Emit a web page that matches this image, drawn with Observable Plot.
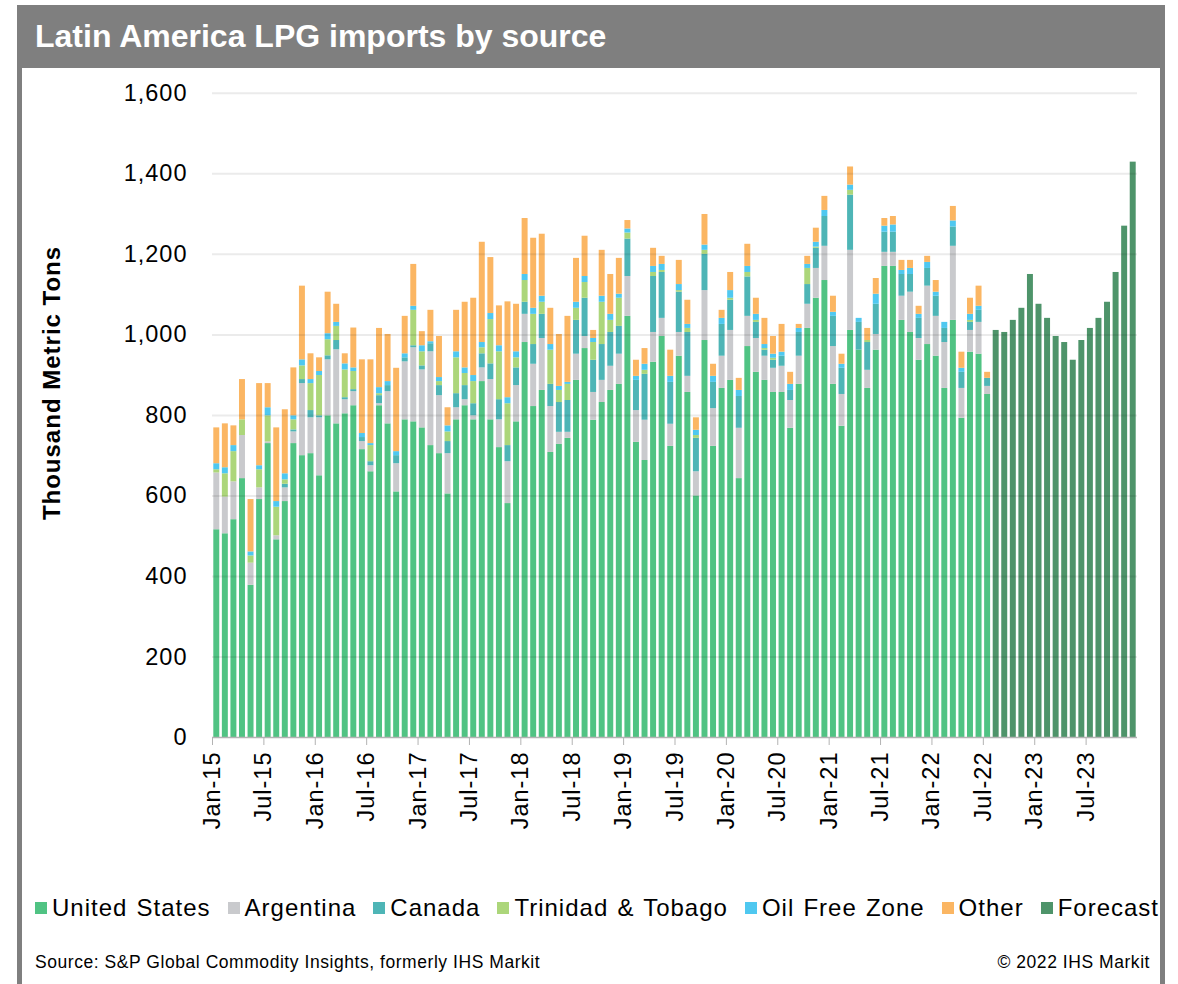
<!DOCTYPE html>
<html><head><meta charset="utf-8">
<script src="https://cdn.jsdelivr.net/npm/d3@7"></script>
<script src="https://cdn.jsdelivr.net/npm/@observablehq/plot@0.6"></script>
<style>
body{margin:0;background:#fff;font-family:"Liberation Sans",Arial,sans-serif;width:1178px;height:984px;overflow:hidden;position:relative;color:#000}
#frame{position:absolute;left:17px;top:5px;width:1148px;height:1010px;border:5px solid #7f7f7f;box-sizing:border-box}
#title{position:absolute;left:17px;top:5px;width:1148px;height:63px;background:#7f7f7f;color:#fff;font-weight:bold;font-size:32px;line-height:63px;padding-left:18px;box-sizing:border-box;white-space:nowrap}
#chart{position:absolute;left:0;top:70px}
#ytitle{position:absolute;left:52px;top:383px;transform:translate(-50%,-50%) rotate(-90deg);font-weight:bold;font-size:24px;letter-spacing:1px;white-space:nowrap}
#legend{position:absolute;left:35px;top:894px;display:flex;gap:17px;font-size:24px;letter-spacing:1px;word-spacing:1.5px;white-space:nowrap;align-items:center}
.item{display:flex;align-items:center}
.sw{width:12px;height:12px;margin-right:5px}
#source{position:absolute;left:35px;top:952px;font-size:17.5px;letter-spacing:0.55px;white-space:nowrap}
#copy{position:absolute;right:28px;top:952px;font-size:17.5px;letter-spacing:0.55px;white-space:nowrap}
</style></head>
<body>
<div id="frame"></div>
<div id="title">Latin America LPG imports by source</div>
<div id="chart"></div>
<div id="ytitle">Thousand Metric Tons</div>
<div id="legend"></div>
<div id="source">Source: S&amp;P Global Commodity Insights, formerly IHS Markit</div>
<div id="copy">© 2022 IHS Markit</div>
<script>
// Monthly data, Jan-15 .. Jul-22 (historical), thousand metric tons
const unitedStates = [516,506,541,643,378,591,730,491,586,730,700,705,650,799,779,804,824,715,660,824,779,610,789,784,769,725,705,605,789,824,789,884,789,720,581,784,981,822,862,708,728,743,887,966,788,832,862,877,1046,733,688,932,996,723,947,857,600,986,723,867,887,643,971,907,887,857,857,768,877,1016,1091,1135,877,773,1011,962,867,962,1170,1170,1036,1006,937,976,947,867,1036,793,957,952,852];
const argentina = [141,91,94,107,55,29,4,10,34,29,179,89,144,139,184,35,35,20,15,5,80,70,144,184,144,233,144,100,30,15,10,34,100,69,104,90,70,105,129,114,30,15,65,30,69,55,60,75,99,79,100,74,45,55,59,40,60,124,94,80,124,125,75,84,60,60,65,69,70,60,74,85,94,79,199,0,45,39,35,35,60,100,54,145,99,114,184,74,54,79,20];
const canada = [0,0,0,0,0,0,0,0,9,5,10,18,5,10,23,5,5,10,10,20,15,20,10,5,10,20,25,30,35,35,30,35,39,50,40,44,30,49,60,55,74,79,84,95,80,89,84,69,93,75,114,139,114,104,100,109,83,90,65,79,75,79,98,40,15,20,25,25,59,49,50,74,75,65,137,69,69,75,50,50,54,44,50,44,50,35,48,40,20,30,20];
const trinidadTobago = [8,58,75,39,18,45,65,71,11,25,34,67,100,40,35,69,45,0,40,5,0,0,0,88,35,0,10,24,89,30,55,15,110,119,104,25,54,75,30,85,30,40,30,39,44,105,30,70,15,0,10,10,5,0,4,10,7,10,0,0,5,0,11,5,4,5,0,0,0,40,3,0,0,0,12,0,5,0,0,0,0,0,0,0,0,0,0,0,5,0,0];
const oilFreeZone = [15,15,15,0,10,10,20,14,15,10,15,10,10,15,10,15,9,10,5,15,10,10,10,10,15,5,10,15,15,14,15,13,15,15,15,15,15,15,15,14,10,5,15,15,10,15,15,10,10,10,15,15,15,15,15,10,13,13,15,15,19,15,15,15,10,10,10,15,10,10,12,15,10,10,13,10,0,25,15,18,10,15,10,15,10,15,15,10,15,10,0];
const other = [89,109,49,100,130,204,60,183,159,119,183,64,34,103,45,25,99,183,208,147,117,207,93,104,35,78,102,45,103,163,192,249,139,99,238,118,139,174,154,90,129,164,109,100,20,114,99,89,21,40,39,45,20,65,60,60,31,76,30,20,45,30,55,40,65,44,69,30,10,20,35,35,40,25,45,0,30,39,19,21,25,20,20,15,29,0,36,40,40,50,15];
// Forecast, Aug-22 .. Dec-23
const forecast = [1011,1006,1036,1066,1150,1076,1041,996,981,937,986,1016,1041,1081,1155,1270,1429];
const tickLabels = ["Jan-15","Jul-15","Jan-16","Jul-16","Jan-17","Jul-17","Jan-18","Jul-18","Jan-19","Jul-19","Jan-20","Jul-20","Jan-21","Jul-21","Jan-22","Jul-22","Jan-23","Jul-23"];
const yTicks = [0,200,400,600,800,1000,1200,1400,1600];

const seriesNames = ["United States","Argentina","Canada","Trinidad & Tobago","Oil Free Zone","Other","Forecast"];
const seriesColors = ["#50c383","#c9cacd","#4eb5b6","#acd67a","#4fc8f0","#fbb663","#4e946a"];
const histSeries = [unitedStates, argentina, canada, trinidadTobago, oilFreeZone, other];

const rows = [];
for (let i = 0; i < unitedStates.length; i++) {
  let base = 0;
  histSeries.forEach((arr, s) => {
    const v = arr[i];
    if (v > 0) rows.push({i, series: seriesNames[s], y1: base, y2: base + v});
    base += v;
  });
}
forecast.forEach((v, k) => rows.push({i: unitedStates.length + k, series: "Forecast", y1: 0, y2: v}));
const nMonths = unitedStates.length + forecast.length;

const plot = Plot.plot({
  width: 1178, height: 780,
  marginLeft: 212, marginRight: 41, marginTop: 22.8, marginBottom: 113,
  style: {fontFamily: "'Liberation Sans', Arial, sans-serif", fontSize: "23.5px", letterSpacing: "1px", color: "#000", background: "transparent"},
  x: {type: "linear", domain: [0, nMonths]},
  y: {domain: [0, 1600]},
  color: {domain: seriesNames, range: seriesColors},
  marks: [
    Plot.rect(rows, {x1: "i", x2: d => d.i + 1, y1: "y1", y2: "y2", fill: "series", insetLeft: 1.3, insetRight: 1.3}),
    Plot.gridY(yTicks.filter(d => d > 0), {stroke: "#000", strokeOpacity: 0.08, strokeWidth: 2}),
    Plot.ruleY([0], {stroke: "#b3b3b3", strokeWidth: 1.5}),
    Plot.axisY({ticks: yTicks, tickFormat: d3.format(","), tickSize: 0, tickPadding: 25, label: null, fill: "#000"}),
    Plot.axisX({ticks: d3.range(0, nMonths, 6), tickFormat: d => tickLabels[d / 6], tickRotate: -90, tickSize: 8, tickPadding: 6, stroke: "#b3b3b3", label: null, fill: "#000"})
  ]
});
document.getElementById("chart").appendChild(plot);

const legend = document.getElementById("legend");
seriesNames.forEach((name, k) => {
  const it = document.createElement("div");
  it.className = "item";
  const sw = document.createElement("div");
  sw.className = "sw"; sw.style.background = seriesColors[k];
  const tx = document.createElement("span"); tx.textContent = name;
  it.appendChild(sw); it.appendChild(tx);
  legend.appendChild(it);
});
</script>
</body></html>
